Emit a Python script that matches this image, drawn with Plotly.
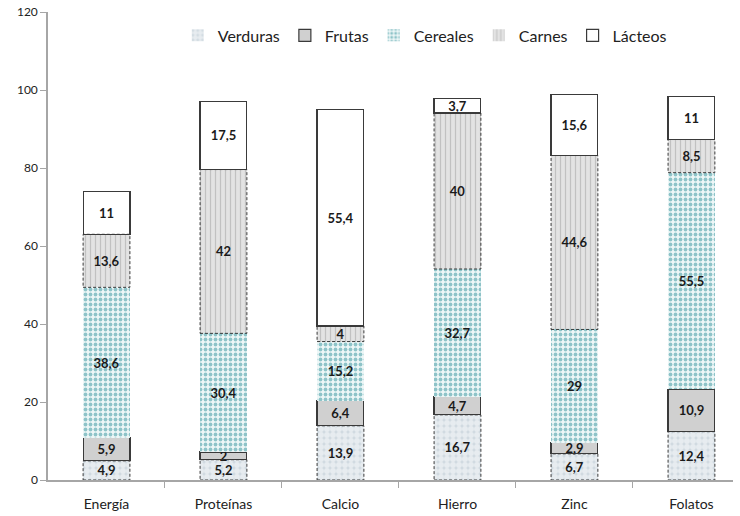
import plotly.graph_objects as go

categories = ["Energía", "Proteínas", "Calcio", "Hierro", "Zinc", "Folatos"]
verduras = [4.9, 5.2, 13.9, 16.7, 6.7, 12.4]
frutas = [5.9, 2, 6.4, 4.7, 2.9, 10.9]
cereales = [38.6, 30.4, 15.2, 32.7, 29, 55.5]
carnes = [13.6, 42, 4, 40, 44.6, 8.5]
lacteos = [11, 17.5, 55.4, 3.7, 15.6, 11]
y_ticks = [0, 20, 40, 60, 80, 100, 120]

BAR_W = 0.4
DARK = "#3a3a3a"

def fmt(v):
    s = ("%g" % v)
    return s.replace(".", ",")

series = [
    ("Verduras", verduras, dict(color="#ffffff", line=dict(width=0),
                                pattern=dict(shape=".", bgcolor="#cfd9e0", fgcolor="#ffffff",
                                             size=6, solidity=0.75)), True),
    ("Frutas", frutas, dict(color="#d0d0d0", line=dict(width=1.2, color=DARK)), False),
    ("Cereales", cereales, dict(color="#ffffff", line=dict(width=0),
                                pattern=dict(shape=".", bgcolor="#eef7f7", fgcolor="#2e8f99",
                                             size=5, solidity=0.45)), False),
    ("Carnes", carnes, dict(color="#e0e0e0", line=dict(width=0),
                            pattern=dict(shape="|", bgcolor="#e3e3e3", fgcolor="#a0a0a0",
                                         size=5, solidity=0.25)), True),
    ("Lácteos", lacteos, dict(color="#ffffff", line=dict(width=1.2, color=DARK)), False),
]

fig = go.Figure()
shapes = []
base = [0.0] * len(categories)
for name, vals, marker, dashed in series:
    fig.add_trace(go.Bar(
        x=list(range(len(categories))), y=vals, name=name, marker=marker,
        width=BAR_W, text=[fmt(v) for v in vals], textposition="inside",
        insidetextanchor="middle", constraintext="none", textangle=0,
        textfont=dict(family="Lato", size=13, color="#1a1a1a", weight="bold"),
        hoverinfo="skip",
    ))
    if dashed:
        for i, v in enumerate(vals):
            shapes.append(dict(type="rect", xref="x", yref="y",
                               x0=i - BAR_W / 2, x1=i + BAR_W / 2,
                               y0=base[i], y1=base[i] + v,
                               line=dict(color=DARK, width=1, dash="3px,2px"),
                               fillcolor="rgba(0,0,0,0)", layer="above"))
    base = [b + v for b, v in zip(base, vals)]

boundaries = [k + 0.5 for k in range(len(categories) - 1)]

fig.update_layout(
    barmode="stack",
    width=740, height=516,
    margin=dict(l=48, r=7, t=12, b=36, autoexpand=False),
    paper_bgcolor="white", plot_bgcolor="white",
    font=dict(family="Lato", color="#222222"),
    shapes=shapes,
    showlegend=True,
    legend=dict(orientation="h", x=0.55, xanchor="center", y=0.95, yanchor="middle",
                font=dict(size=16, color="#222222"), traceorder="normal",
                itemwidth=30, bgcolor="rgba(0,0,0,0)"),
    xaxis=dict(tickmode="array", tickvals=list(range(len(categories))), ticktext=categories,
               range=[-0.5, 5.355], showline=True, linecolor="#a6a6a6", linewidth=1.5,
               ticks="", showgrid=False, zeroline=False, ticklabelstandoff=10,
               minor=dict(tickmode="array", tickvals=boundaries, ticks="outside",
                          ticklen=6, tickcolor="#a6a6a6", showgrid=False),
               tickfont=dict(size=14, color="#222222")),
    yaxis=dict(range=[0, 120], tickvals=y_ticks, showline=True, linecolor="#a6a6a6",
               linewidth=1.5, ticks="outside", ticklen=6, tickcolor="#a6a6a6",
               showgrid=False, zeroline=False,
               tickfont=dict(size=12, color="#222222")),
)

fig.write_html("out.html")
